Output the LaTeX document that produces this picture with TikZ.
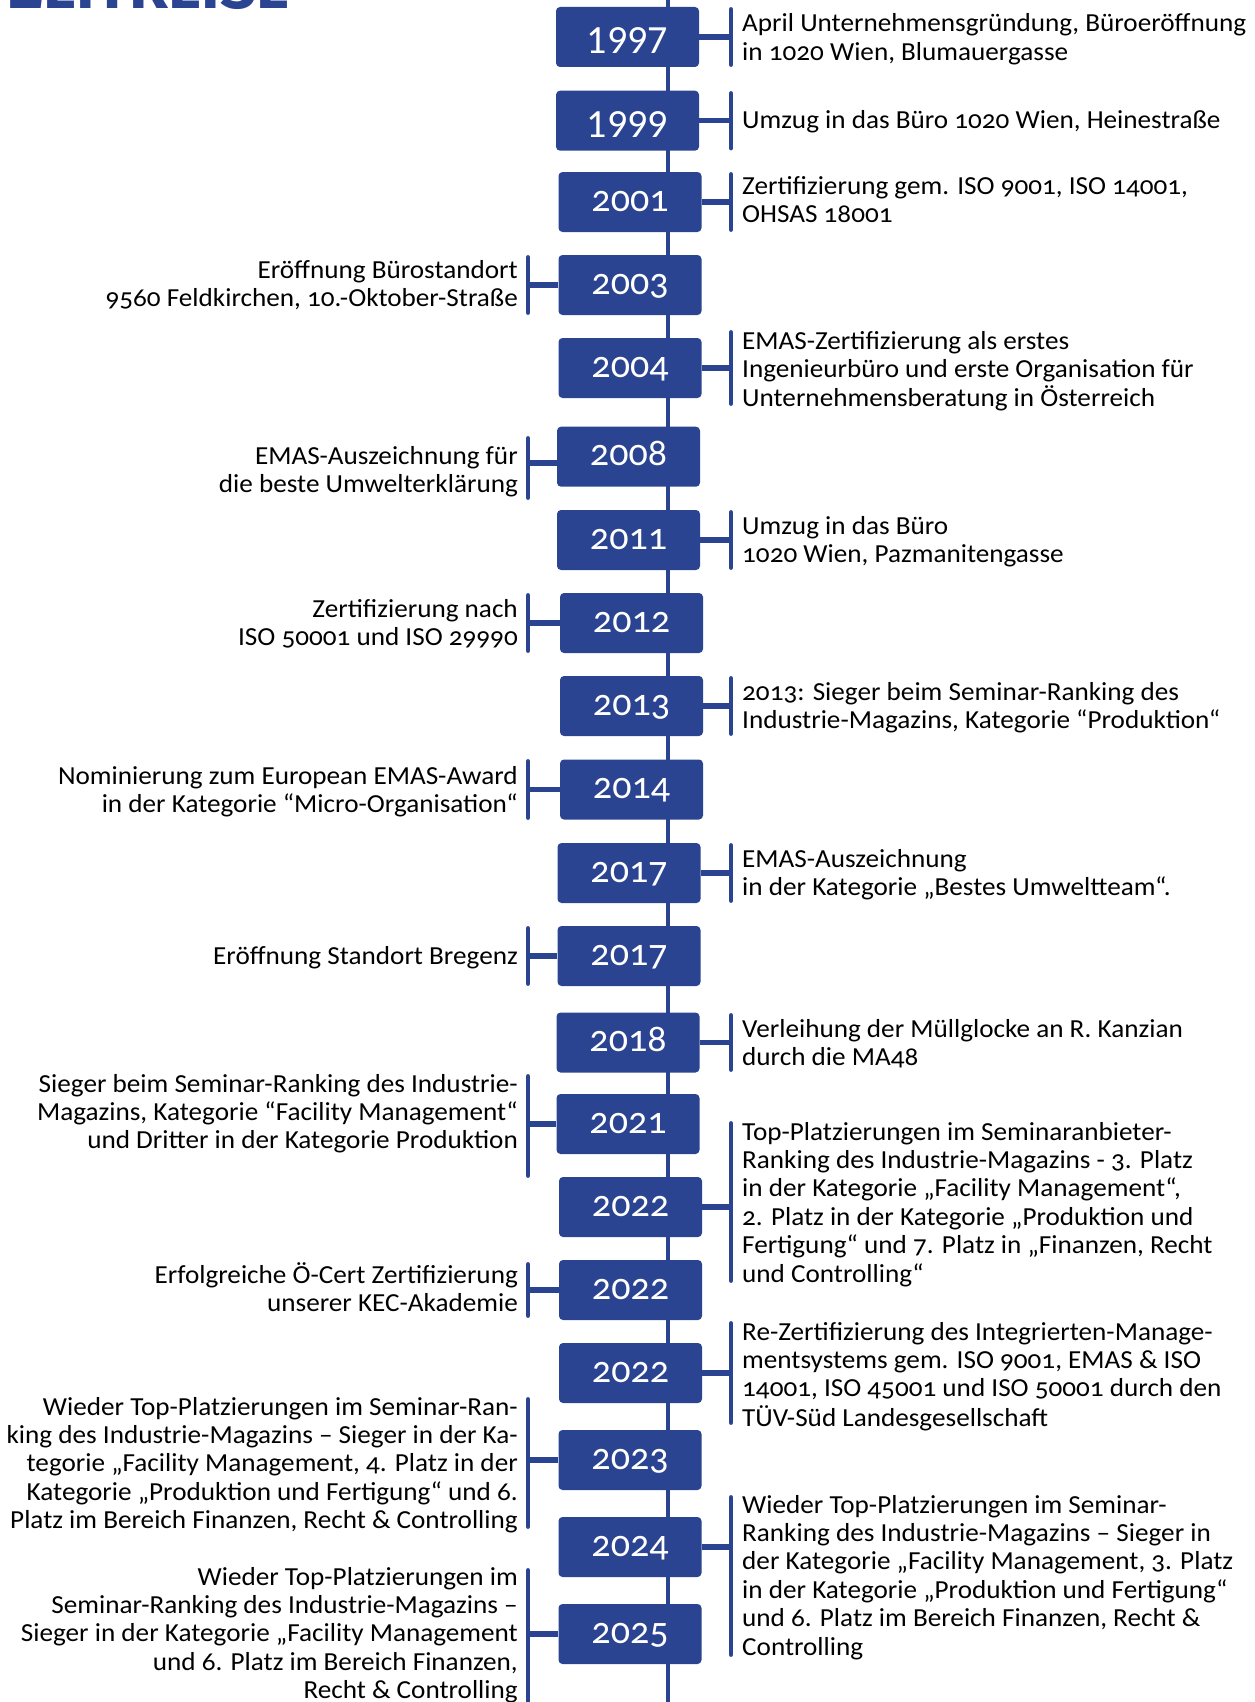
\documentclass[tikz,border=0pt]{standalone}
\usepackage{fontspec}
\setmainfont{Carlito}[Numbers=OldStyle, FakeStretch=1.045]
\newfontfamily\yearfont{Carlito}[Numbers=OldStyle]
\newfontfamily\yearlining{Carlito}[Numbers=Lining]
\newfontfamily\titlefont{Fira Sans}
\definecolor{kblue}{RGB}{43,68,146}
\newcommand\bodyfont{\fontsize{26}{28.4}\selectfont}
\newcommand\Ltext[1]{\begin{tabular}[t]{@{}l@{}}#1\end{tabular}}
\newcommand\Rtext[1]{\begin{tabular}[t]{@{}r@{}}#1\end{tabular}}
\begin{document}
\begin{tikzpicture}[x=1pt,y=-1pt,
  yearbox/.style={fill=kblue, rounded corners=4pt, minimum width=143pt,
    minimum height=60pt, inner sep=0pt, text=white, text height=18pt, text depth=0pt,
    font=\yearfont\fontsize{38}{38}\selectfont},
  yearboxL/.style={yearbox, text height=34pt, font=\yearlining\fontsize{40}{40}\selectfont},
  spine/.style={draw=kblue, line width=4.6pt},
  bar/.style={draw=kblue, line width=5.4pt},
  brk/.style={draw=kblue, line width=4.8pt, line cap=round},
  rtxt/.style={anchor=base west, inner sep=0pt, font=\bodyfont},
  ltxt/.style={anchor=base east, inner sep=0pt, font=\bodyfont},
]
\useasboundingbox (0,0) rectangle (1254,1702);
\clip (0,0) rectangle (1254,1702);

% title (cut off at top)
\node[anchor=base west, inner sep=0pt, text=kblue, font=\titlefont\bfseries] (title) at (9,8.5)
  {\resizebox{280pt}{!}{ZEITREISE}};

% spine
\coordinate (top) at (668,-5);
\coordinate (bot) at (668,1710);
\draw[spine] (top) -- (bot);

% year boxes
\node[yearboxL] (y1997) at (627.5,37) {1997};
\node[yearboxL] (y1999) at (627.5,120.7) {1999};
\node[yearbox] (y2001) at (630,202) {2001};
\node[yearbox] (y2003) at (630,285) {2003};
\node[yearbox] (y2004) at (630,368) {2004};
\node[yearbox] (y2008) at (628.5,456.7) {2008};
\node[yearbox] (y2011) at (628.5,540) {2011};
\node[yearbox] (y2012) at (631.5,623) {2012};
\node[yearbox] (y2013) at (631.5,706) {2013};
\node[yearbox] (y2014) at (631.5,789.5) {2014};
\node[yearbox] (y2017a) at (629,873) {2017};
\node[yearbox] (y2017b) at (629,956) {2017};
\node[yearbox] (y2018) at (628,1042.5) {2018};
\node[yearbox] (y2021) at (628,1124) {2021};
\node[yearbox] (y2022a) at (630.5,1207) {2022};
\node[yearbox] (y2022b) at (630.5,1290) {2022};
\node[yearbox] (y2022c) at (630.5,1373) {2022};
\node[yearbox] (y2023) at (630,1460) {2023};
\node[yearbox] (y2024) at (630,1547) {2024};
\node[yearbox] (y2025) at (630,1634) {2025};

% brackets: right side x=731, left side x=528
\coordinate (r1997t) at (731,9.5);   \coordinate (r1997b) at (731,64.5);
\coordinate (r1999t) at (731,93.5);  \coordinate (r1999b) at (731,148);
\coordinate (r2001t) at (731,174.5); \coordinate (r2001b) at (731,229.5);
\coordinate (r2004t) at (731,332.5); \coordinate (r2004b) at (731,403.5);
\coordinate (r2011t) at (731,512.5); \coordinate (r2011b) at (731,567.5);
\coordinate (r2013t) at (731,678.5); \coordinate (r2013b) at (731,733.5);
\coordinate (r2017t) at (731,845.5); \coordinate (r2017b) at (731,900.5);
\coordinate (r2018t) at (731,1015.5);\coordinate (r2018b) at (731,1069.5);
\coordinate (r2022at) at (731,1123.5);\coordinate (r2022ab) at (731,1280.5);
\coordinate (r2022ct) at (731,1323.5);\coordinate (r2022cb) at (731,1422.5);
\coordinate (r2024t) at (731,1497.5);\coordinate (r2024b) at (731,1654.5);

\coordinate (l2003t) at (528,257.5); \coordinate (l2003b) at (528,312.5);
\coordinate (l2008t) at (528,438.5); \coordinate (l2008b) at (528,497.5);
\coordinate (l2012t) at (528,595.5); \coordinate (l2012b) at (528,650.5);
\coordinate (l2014t) at (528,761.5); \coordinate (l2014b) at (528,817.5);
\coordinate (l2017t) at (528,928.5); \coordinate (l2017b) at (528,983.5);
\coordinate (l2021t) at (528,1076.5);\coordinate (l2021b) at (528,1175.5);
\coordinate (l2022t) at (528,1264.5);\coordinate (l2022b) at (528,1315.5);
\coordinate (l2023t) at (528,1399.5);\coordinate (l2023b) at (528,1526.5);
\coordinate (l2025t) at (528,1570.5);\coordinate (l2025b) at (528,1720);

\foreach \a/\b in {r1997t/r1997b, r1999t/r1999b, r2001t/r2001b, r2004t/r2004b,
  r2011t/r2011b, r2013t/r2013b, r2017t/r2017b, r2018t/r2018b, r2022at/r2022ab,
  r2022ct/r2022cb, r2024t/r2024b, l2003t/l2003b, l2008t/l2008b, l2012t/l2012b,
  l2014t/l2014b, l2017t/l2017b, l2021t/l2021b, l2022t/l2022b, l2023t/l2023b,
  l2025t/l2025b}
  \draw[brk] (\a) -- (\b);

% horizontal connectors
\foreach \n/\c in {y1997/r1997t, y1999/r1999t, y2001/r2001t, y2004/r2004t,
  y2011/r2011t, y2013/r2013t, y2017a/r2017t, y2018/r2018t, y2022a/r2022at,
  y2022c/r2022ct, y2024/r2024t}
  \draw[bar] (\n.east) -- (\n.east -| \c);
\foreach \n/\c in {y2003/l2003t, y2012/l2012t,
  y2014/l2014t, y2017b/l2017t, y2021/l2021t, y2022b/l2022t, y2023/l2023t,
  y2025/l2025t}
  \draw[bar] (\n.west) -- (\n.west -| \c);
\coordinate (c2008) at (528,463);
\draw[bar] (y2008.west |- c2008) -- (c2008);

% right texts
\node[rtxt] (t1997) at (742,32) {\Ltext{April Unternehmensgründung, Büroeröffnung\\ in 1020 Wien, Blumauergasse}};
\node[rtxt] (t1999) at (742,128.5) {\Ltext{Umzug in das Büro 1020 Wien, Heinestraße}};
\node[rtxt] (t2001) at (742,194) {\Ltext{Zertifizierung gem. ISO 9001, ISO 14001,\\ OHSAS 18001}};
\node[rtxt] (t2004) at (742,349) {\Ltext{EMAS-Zertifizierung als erstes\\ Ingenieurbüro und erste Organisation für\\ Unternehmensberatung in Österreich}};
\node[rtxt] (t2011) at (742,534.5) {\Ltext{Umzug in das Büro\\ 1020 Wien, Pazmanitengasse}};
\node[rtxt] (t2013) at (742,700.5) {\Ltext{2013: Sieger beim Seminar-Ranking des\\ Industrie-Magazins, Kategorie “Produktion“}};
\node[rtxt] (t2017a) at (742,867.5) {\Ltext{EMAS-Auszeichnung\\ in der Kategorie „Bestes Umweltteam“.}};
\node[rtxt] (t2018) at (742,1037) {\Ltext{Verleihung der Müllglocke an R. Kanzian\\ durch die MA48}};
\node[rtxt] (t2022a) at (742,1140) {\Ltext{Top-Platzierungen im Seminaranbieter-\\ Ranking des Industrie-Magazins - 3. Platz\\ in der Kategorie „Facility Management“,\\ 2. Platz in der Kategorie „Produktion und\\ Fertigung“ und 7. Platz in „Finanzen, Recht\\ und Controlling“}};
\node[rtxt] (t2022c) at (742,1340) {\Ltext{Re-Zertifizierung des Integrierten-Manage-\\ mentsystems gem. ISO 9001, EMAS \& ISO\\ 14001, ISO 45001 und ISO 50001 durch den\\ TÜV-Süd Landesgesellschaft}};
\node[rtxt] (t2024) at (742,1513) {\Ltext{Wieder Top-Platzierungen im Seminar-\\ Ranking des Industrie-Magazins – Sieger in\\ der Kategorie „Facility Management, 3. Platz\\ in der Kategorie „Produktion und Fertigung“\\ und 6. Platz im Bereich Finanzen, Recht \&\\ Controlling}};

% left texts
\node[ltxt] (t2003) at (518,278.5) {\Rtext{Eröffnung Bürostandort\\ 9560 Feldkirchen, 10.-Oktober-Straße}};
\node[ltxt] (t2008) at (518,464) {\Rtext{EMAS-Auszeichnung für\\ die beste Umwelterklärung}};
\node[ltxt] (t2012) at (518,617) {\Rtext{Zertifizierung nach\\ ISO 50001 und ISO 29990}};
\node[ltxt] (t2014) at (518,784) {\Rtext{Nominierung zum European EMAS-Award\\ in der Kategorie “Micro-Organisation“}};
\node[ltxt] (t2017b) at (518,964.5) {\Rtext{Eröffnung Standort Bregenz}};
\node[ltxt] (t2021) at (518,1092) {\Rtext{Sieger beim Seminar-Ranking des Industrie-\\ Magazins, Kategorie “Facility Management“\\ und Dritter in der Kategorie Produktion}};
\node[ltxt] (t2022b) at (518,1283.5) {\Rtext{Erfolgreiche Ö-Cert Zertifizierung\\ unserer KEC-Akademie}};
\node[ltxt] (t2023) at (518,1415) {\Rtext{Wieder Top-Platzierungen im Seminar-Ran-\\ king des Industrie-Magazins – Sieger in der Ka-\\ tegorie „Facility Management, 4. Platz in der\\ Kategorie „Produktion und Fertigung“ und 6.\\ Platz im Bereich Finanzen, Recht \& Controlling}};
\node[ltxt] (t2025) at (518,1585) {\Rtext{Wieder Top-Platzierungen im\\ Seminar-Ranking des Industrie-Magazins –\\ Sieger in der Kategorie „Facility Management\\ und 6. Platz im Bereich Finanzen,\\ Recht \& Controlling}};
\end{tikzpicture}
\end{document}
